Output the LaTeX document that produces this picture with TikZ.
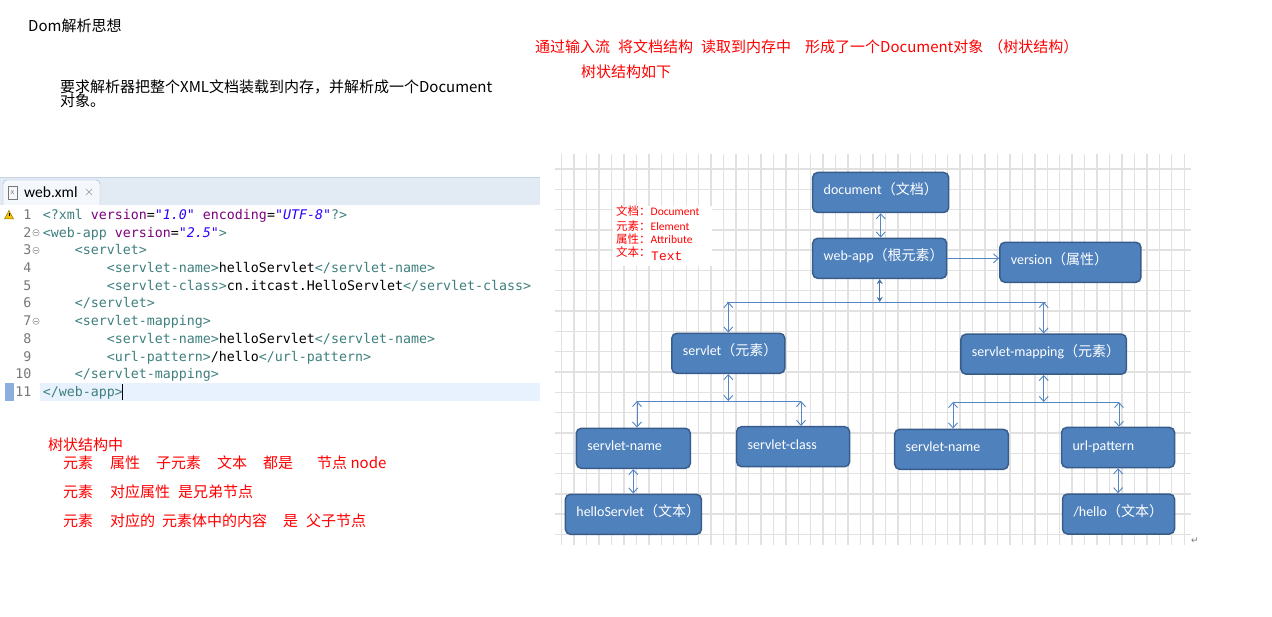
\documentclass[tikz,border=0pt]{standalone}
\usepackage{fontspec}
\setmainfont{Carlito}
\newfontfamily\cjk{Noto Sans CJK SC}
\newfontfamily\codefont{DejaVu Sans Mono}[Ligatures=TeXOff]
\newfontfamily\retfont{DejaVu Sans}
\newfontfamily\oldmono{Liberation Mono}
\usetikzlibrary{arrows.meta}
\definecolor{gridgray}{RGB}{225, 225, 225}
\definecolor{boxblue}{RGB}{79, 129, 189}
\definecolor{boxedge}{RGB}{56, 93, 138}
\definecolor{linkblue}{RGB}{84, 133, 196}
\definecolor{tagteal}{RGB}{63, 127, 127}
\definecolor{attrpurple}{RGB}{127, 0, 127}
\definecolor{valblue}{RGB}{42, 0, 255}
\definecolor{numgray}{RGB}{120, 120, 120}
\definecolor{tabbar}{RGB}{226, 234, 244}
\definecolor{tabface}{RGB}{244, 247, 251}
\definecolor{tabedge}{RGB}{160, 182, 206}
\definecolor{curline}{RGB}{232, 242, 254}
\definecolor{markblue}{RGB}{138, 174, 224}
\definecolor{warnyellow}{RGB}{245, 196, 0}

\newcommand{\xtag}[1]{\textcolor{tagteal}{#1}}
\newcommand{\xattr}[1]{\textcolor{attrpurple}{#1}}
\newcommand{\xval}[1]{\textcolor{valblue}{\itshape #1}}
\newcommand{\zh}[1]{{\cjk #1}}

\tikzset{
  every node/.style={inner sep=0pt},
  note/.style={anchor=base west, font=\cjk\fontsize{15}{17}\selectfont},
  rednote/.style={note, text=red},
  codeline/.style={anchor=base west, font=\codefont\fontsize{13.3}{16}\selectfont},
  lineno/.style={anchor=base east, text=numgray, font=\codefont\fontsize{13.3}{16}\selectfont},
  legend/.style={anchor=base west, text=red, font=\fontsize{11.5}{13}\selectfont},
  elem/.style={draw=boxedge, fill=boxblue, line width=1.5pt, rounded corners=5pt,
    minimum height=40pt, text width=#1, text height=10pt, text depth=5pt,
    align=left, inner xsep=11pt, inner ysep=0pt,
    text=white, font=\fontsize{14}{16}\selectfont},
  link/.style={draw=linkblue, line width=0.9pt,
    {Straight Barb[length=5pt,width=9pt]}-{Straight Barb[length=5pt,width=9pt]}},
  pointer/.style={draw=linkblue, line width=0.9pt, -{Straight Barb[length=5pt,width=9pt]}},
  solidlink/.style={draw=boxblue!90!black, line width=1.2pt,
    {Stealth[length=5pt,width=6pt]}-{Stealth[length=5pt,width=6pt]}},
  bus/.style={draw=linkblue, line width=0.9pt},
  gridline/.style={draw=gridgray, line width=1.4pt},
  fold/.style={draw=numgray!70, line width=0.6pt}
}

\begin{document}
\begin{tikzpicture}[x=1pt, y=-1pt]
  \fill[white] (0, 0) rectangle (1272, 617);
  \useasboundingbox (0, 0) rectangle (1272, 617);

  % Notes on top
  \node[note] (title) at (28, 32) {Dom解析思想};
  \node[note] (req1) at (60, 92.5) {要求解析器把整个XML文档装载到内存，并解析成一个Document};
  \node[note] (req2) at (60, 107) {对象。};
  \node[rednote] (flow) at (535, 53) {通过输入流\hspace{8pt}将文档结构\hspace{8pt}读取到内存中\hspace{14pt}形成了一个Document对象\hspace{5pt}（树状结构）};
  \node[rednote] (flowb) at (581, 78) {树状结构如下};

  % Editor tab
  \fill[tabbar] (0, 177) rectangle (540, 205);
  \draw[tabedge!60] (0, 177) -- (540, 177);
  \draw[tabedge, fill=tabface, rounded corners=4pt] (3, 205) -- (3, 180) -- (100, 180) -- (100, 205);
  \draw[numgray] (8, 186) rectangle (17, 199);
  \node[font=\codefont\fontsize{7}{7}\selectfont, text=numgray] (tabicon) at (12.5, 192.5) {x};
  \node[anchor=base west, font=\fontsize{15.5}{17}\selectfont] (tabname) at (24, 197.5) {web.xml};
  \draw[numgray!80] (86, 189) -- (92, 195) (86, 195) -- (92, 189);

  % Code area
  \fill[white] (0, 205) rectangle (540, 401);
  \fill[curline] (40, 383) rectangle (540, 401);
  \fill[markblue] (5, 383) rectangle (14, 401);
  \filldraw[fill=warnyellow, draw=warnyellow!60!black, line width=0.5pt] (4.5, 219) -- (9, 210.5) -- (13.5, 219) -- cycle;
  \draw[black, line width=0.8pt] (9, 213.5) -- (9, 216.5);

  \foreach \n in {1,...,11} {
    \node[lineno] (ln\n) at (31.5, {219.5 + 17.7*(\n - 1)}) {\n};
  }
  \foreach \n in {2, 3, 7} {
    \draw[fold] (36, {215 + 17.7*(\n - 1)}) circle (3.2);
    \draw[fold] (34.3, {215 + 17.7*(\n - 1)}) -- (37.7, {215 + 17.7*(\n - 1)});
  }

  \node[codeline] (c1) at (42.6, 219.5) {\xtag{<?xml} \xattr{version}=\xval{"1.0"} \xattr{encoding}=\xval{"UTF-8"}\xtag{?>}};
  \node[codeline] (c2) at (42.6, 237.2) {\xtag{<web-app} \xattr{version}=\xval{"2.5"}\xtag{>}};
  \node[codeline] (c3) at (74.6, 254.9) {\xtag{<servlet>}};
  \node[codeline] (c4) at (106.6, 272.6) {\xtag{<servlet-name>}helloServlet\xtag{</servlet-name>}};
  \node[codeline] (c5) at (106.6, 290.3) {\xtag{<servlet-class>}cn.itcast.HelloServlet\xtag{</servlet-class>}};
  \node[codeline] (c6) at (74.6, 308) {\xtag{</servlet>}};
  \node[codeline] (c7) at (74.6, 325.7) {\xtag{<servlet-mapping>}};
  \node[codeline] (c8) at (106.6, 343.4) {\xtag{<servlet-name>}helloServlet\xtag{</servlet-name>}};
  \node[codeline] (c9) at (106.6, 361.1) {\xtag{<url-pattern>}/hello\xtag{</url-pattern>}};
  \node[codeline] (c10) at (74.6, 378.8) {\xtag{</servlet-mapping>}};
  \node[codeline] (c11) at (42.6, 396.5) {\xtag{</web-app>}};
  \draw[black, line width=1pt] (122.8, 384) -- (122.8, 400);

  % Notes below the code
  \node[rednote] (tree0) at (48, 450) {树状结构中};
  \node[rednote] (tree1) at (63, 468) {元素\hspace{17pt}属性\hspace{16pt}子元素\hspace{16pt}文本\hspace{16pt}都是\hspace{24pt}节点 node};
  \node[rednote] (tree2) at (63, 497) {元素\hspace{17pt}对应属性\hspace{8pt}是兄弟节点};
  \node[rednote] (tree3) at (63, 526) {元素\hspace{17pt}对应的\hspace{7pt}元素体中的内容\hspace{16pt}是\hspace{8pt}父子节点};

  % Grid
  \foreach \k in {0,...,50} {
    \draw[gridline] ({561.7 + 12.45*\k}, 154) -- ({561.7 + 12.45*\k}, 545);
  }
  \foreach \k in {0,...,18} {
    \draw[gridline] (555, {169 + 20.3*\k}) -- (1191, {169 + 20.3*\k});
  }
  \node[text=numgray, font=\retfont\fontsize{9}{9}\selectfont] (ret) at (1195, 541) {↵};

  % Legend
  \fill[white] (613, 206) rectangle (712, 266);
  \node[legend] (lgdoc) at (616, 216) {\zh{文档：}Document};
  \node[legend] (lgelem) at (616, 230.5) {\zh{元素：}Element};
  \node[legend] (lgattr) at (616, 243.5) {\zh{属性：}Attribute};
  \node[legend] (lgtext) at (616, 256.5) {\zh{文本：}};
  \node[anchor=base west, fill=white, inner sep=1pt, text=red, font=\oldmono\fontsize{13}{14}\selectfont] (lgword) at (650, 261) {Text};

  % Tree
  \node[elem=114pt] (doc) at (880.7, 192.5) {\mbox{document\zh{（文档）}}};
  \node[elem=112pt] (webapp) at (879.7, 258.3) {\mbox{web-app\zh{（根元素）}}};
  \node[elem=119pt] (version) at (1070.4, 262.3) {\mbox{version\zh{（属性）}}};
  \node[elem=91pt] (servlet) at (728.3, 353.3) {\mbox{servlet\zh{（元素）}}};
  \node[elem=143.5pt] (mapping) at (1043.7, 354.2) {\mbox{servlet-mapping\zh{（元素）}}};
  \node[elem=92pt] (sname) at (633.3, 448.3) {\mbox{servlet-name}};
  \node[elem=91pt] (sclass) at (793.1, 446.7) {\mbox{servlet-class}};
  \node[elem=91.6pt] (mname) at (951.5, 449.3) {\mbox{servlet-name}};
  \node[elem=91pt] (urlpat) at (1118.1, 447.5) {\mbox{url-pattern}};
  \node[elem=114pt] (hellotext) at (633.4, 514.3) {\mbox{helloServlet\zh{（文本）}}};
  \node[elem=90pt] (hellourl) at (1118.5, 514) {\mbox{/hello\zh{（文本）}}};

  \coordinate (hub) at (879, 302);
  \coordinate (busL) at (727, 302);
  \coordinate (busR) at (1046, 302);
  \coordinate (lbL) at (637, 401);
  \coordinate (lbR) at (801, 401);
  \coordinate (rbL) at (953, 402);
  \coordinate (rbR) at (1119, 402);

  \draw[link] (doc.south) -- (doc.south |- webapp.north);
  \draw[pointer] (webapp.east) -- (version.west |- webapp.east);
  \draw[solidlink] (webapp.south) -- (webapp.south |- hub);
  \draw[bus] (busL) -- (busR);
  \draw[link] (servlet.north |- hub) -- (servlet.north);
  \draw[link] (mapping.north |- hub) -- (mapping.north);

  \draw[link] (servlet.south) -- (servlet.south |- lbL);
  \draw[bus] (lbL) -- (lbR);
  \draw[link] (lbL) -- (lbL |- sname.north);
  \draw[link] (lbR) -- (lbR |- sclass.north);

  \draw[link] (mapping.south) -- (mapping.south |- rbL);
  \draw[bus] (rbL) -- (rbR);
  \draw[link] (rbL) -- (rbL |- mname.north);
  \draw[link] (rbR) -- (rbR |- urlpat.north);

  \draw[link] (sname.south) -- (sname.south |- hellotext.north);
  \draw[link] (urlpat.south) -- (urlpat.south |- hellourl.north);
\end{tikzpicture}
\end{document}
